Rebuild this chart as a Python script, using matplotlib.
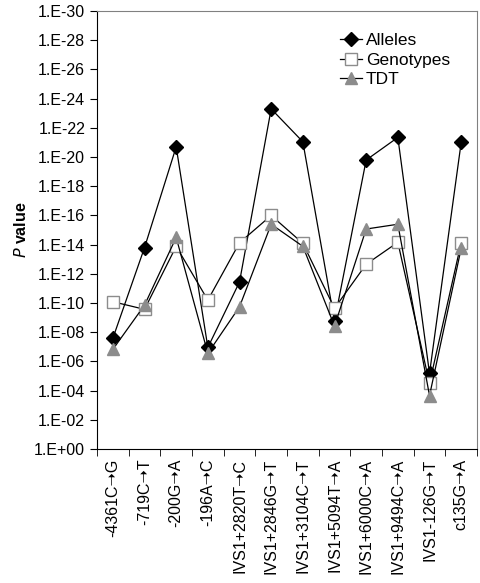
import matplotlib
matplotlib.use("Agg")
import matplotlib.pyplot as plt
from matplotlib.ticker import FixedLocator, FixedFormatter

plt.rcParams['font.family'] = ['Liberation Sans', 'DejaVu Sans']

categories = ["-4361C\u279dG", "-719C\u279dT", "-200G\u279dA", "-196A\u279dC",
              "IVS1+2820T\u279dC", "IVS1+2846G\u279dT", "IVS1+3104C\u279dT",
              "IVS1+5094T\u279dA", "IVS1+6000C\u279dA", "IVS1+9494C\u279dA",
              "IVS1-126G\u279dT", "c135G\u279dA"]
# p-values
alleles_p = [2.6e-08, 1.6e-14, 2.0e-21, 1.1e-07, 3.6e-12, 5.0e-24,
             9.0e-22, 1.7e-09, 1.6e-20, 4.5e-22, 6.6e-06, 1.0e-21]
genotypes_p = [8.1e-11, 2.7e-10, 1.3e-14, 6.3e-11, 7.4e-15, 1.0e-16,
               8.1e-15, 2.3e-10, 2.2e-13, 6.9e-15, 3.2e-05, 7.4e-15]
tdt_p = [1.5e-07, 1.4e-10, 3.2e-15, 2.8e-07, 1.8e-10, 4.0e-16,
         1.3e-14, 3.8e-09, 8.5e-16, 4.0e-16, 2.2e-04, 1.8e-14]
ytick_vals = [10.0 ** -k for k in range(0, 31, 2)]
ytick_labels = ["1.E+00"] + ["1.E-%02d" % k for k in range(2, 31, 2)]

fig = plt.figure(figsize=(4.81, 5.83), dpi=100)
ax = fig.add_axes([0.2017, 0.2298, 0.79, 0.7512])
x = list(range(len(categories)))

ax.plot(x, alleles_p, color='black', lw=0.9, marker='D', ms=7,
        mfc='black', mec='black', label='Alleles', zorder=3)
ax.plot(x, genotypes_p, color='black', lw=0.9, marker='s', ms=9,
        mfc='white', mec='#8c8c8c', mew=1.0, label='Genotypes', zorder=4)
ax.plot(x, tdt_p, color='black', lw=0.9, marker='^', ms=9,
        mfc='#8c8c8c', mec='#8c8c8c', label='TDT', zorder=5)

ax.set_yscale('log')
ax.set_ylim(1.0, 1e-30)
ax.yaxis.set_major_locator(FixedLocator(ytick_vals))
ax.yaxis.set_major_formatter(FixedFormatter(ytick_labels))
ax.yaxis.set_minor_locator(FixedLocator([]))
ax.set_xlim(-0.5, len(categories) - 0.5)
ax.set_xticks(x)
ax.set_xticklabels(categories, rotation=90, fontsize=11.5)
ax.set_xticks([i + 0.5 for i in range(-1, len(categories))], minor=True)
ax.tick_params(axis='x', which='major', length=0, pad=7)
ax.tick_params(axis='x', which='minor', length=5, direction='out')
ax.tick_params(axis='y', which='major', length=5, direction='out', labelsize=11.5)

for s in ['top', 'right']:
    ax.spines[s].set_color('#808080')
for s in ['left', 'bottom']:
    ax.spines[s].set_color('black')

ax.set_ylabel(r'$\bf\it{P}$' + ' value', fontsize=11.5, fontweight='bold', labelpad=4)

leg = ax.legend(loc='upper right', bbox_to_anchor=(0.97, 0.985), frameon=False,
                fontsize=12.5, handlelength=1.3, handletextpad=0.2,
                labelspacing=0.25)

fig.savefig('out.png', dpi=100)
